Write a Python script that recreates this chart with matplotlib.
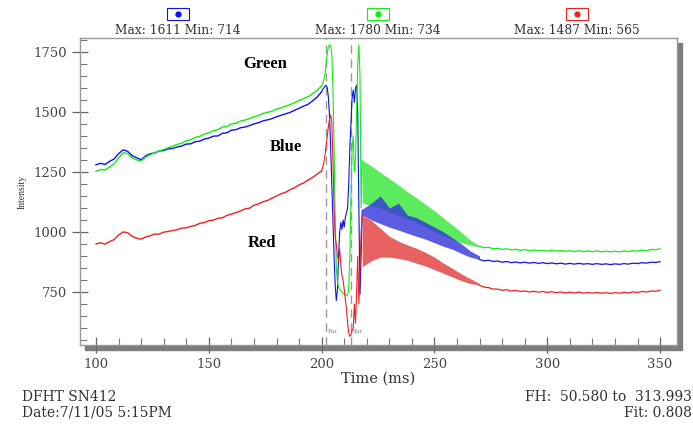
import matplotlib.pyplot as plt
from matplotlib.patches import Rectangle
from matplotlib.ticker import MultipleLocator

plt.rcParams['font.family'] = ['DejaVu Serif']

# smooth rise before the event, every 2 ms
t_pre = [100, 102, 104, 106, 108, 110, 112, 114, 116, 118, 120, 122, 124, 126, 128,
         130, 132, 134, 136, 138, 140, 142, 144, 146, 148, 150, 152, 154, 156, 158,
         160, 162, 164, 166, 168, 170, 172, 174, 176, 178, 180, 182, 184, 186, 188,
         190, 192, 194, 196, 198, 200]
blue_pre = [1280, 1286, 1281, 1294, 1304, 1326, 1342, 1336, 1318, 1309, 1301, 1317, 1326, 1329, 1337,
            1339, 1346, 1348, 1354, 1358, 1366, 1367, 1376, 1378, 1387, 1391, 1399, 1400, 1411, 1413,
            1424, 1426, 1434, 1437, 1443, 1450, 1455, 1463, 1467, 1472, 1480, 1486, 1492, 1498, 1507,
            1515, 1524, 1532, 1546, 1562, 1584]
green_pre = [1252, 1260, 1258, 1271, 1284, 1308, 1330, 1327, 1309, 1300, 1296, 1312, 1322, 1330, 1338,
             1343, 1351, 1357, 1365, 1370, 1380, 1384, 1394, 1398, 1408, 1413, 1422, 1426, 1437, 1440,
             1450, 1453, 1462, 1466, 1472, 1480, 1485, 1494, 1498, 1503, 1512, 1517, 1524, 1530, 1539,
             1547, 1556, 1563, 1576, 1590, 1608]
red_pre = [950, 955, 949, 960, 968, 987, 1000, 997, 982, 974, 970, 979, 984, 991, 991,
           999, 1002, 1006, 1009, 1016, 1017, 1023, 1027, 1036, 1039, 1047, 1049, 1057, 1059, 1069,
           1074, 1081, 1087, 1096, 1099, 1111, 1117, 1126, 1131, 1141, 1149, 1159, 1165, 1176, 1184,
           1196, 1204, 1216, 1227, 1241, 1254]

# transient between 200 and 218 ms, every 0.5 ms
t_tr = [200, 200.5, 201, 201.5, 202, 202.5, 203, 203.5, 204, 204.5, 205, 205.5, 206, 206.5,
        207, 207.5, 208, 208.5, 209, 209.5, 210, 210.5, 211, 211.5, 212, 212.5, 213,
        213.5, 214, 214.5, 215, 215.5, 216, 216.5, 217, 217.5, 218]
blue_tr = [1584, 1595, 1600, 1608, 1611, 1600, 1560, 1480, 1350, 1200, 1050, 900, 780, 714,
           760, 900, 1000, 1040, 1010, 1050, 1020, 1060, 1080, 1100, 1200, 1350, 1450,
           1560, 1590, 1540, 1600, 1611, 1500, 1100, 740, 900, 1090]
green_tr = [1608, 1620, 1635, 1660, 1700, 1745, 1770, 1780, 1775, 1740, 1600, 1350, 1050, 850,
            790, 770, 760, 755, 750, 745, 740, 738, 734, 740, 760, 900, 1150,
            1350, 1400, 1250, 1300, 1500, 1700, 1780, 1650, 1100, 1300]
red_tr = [1254, 1270, 1290, 1320, 1360, 1400, 1440, 1470, 1487, 1460, 1300, 1100, 980, 950,
          900, 880, 930, 860, 820, 800, 760, 720, 680, 620, 580, 565, 570,
          590, 600, 700, 620, 750, 900, 700, 850, 1000, 1070]

# fast oscillation after the event, drawn as upper / lower envelopes
t_band = [218, 222, 226, 230, 234, 238, 242, 246, 250, 254, 258, 262, 266, 270]
green_hi = [1300, 1275, 1248, 1222, 1196, 1168, 1142, 1115, 1088, 1058, 1028, 998, 965, 942]
green_lo = [1120, 1110, 1100, 1085, 1070, 1055, 1040, 1020, 1000, 985, 968, 955, 945, 938]
blue_hi = [1095, 1120, 1150, 1100, 1120, 1070, 1060, 1040, 1020, 1000, 975, 950, 920, 900]
blue_lo = [1070, 1050, 1035, 1020, 1008, 995, 982, 970, 955, 940, 928, 910, 895, 885]
red_hi = [1070, 1048, 1015, 982, 962, 946, 932, 915, 895, 870, 848, 825, 805, 785]
red_lo = [855, 880, 895, 895, 890, 882, 870, 858, 843, 828, 812, 797, 785, 778]

# flat tail, every 2 ms
t_tail = [270, 272, 274, 276, 278, 280, 282, 284, 286, 288, 290, 292, 294, 296, 298,
          300, 302, 304, 306, 308, 310, 312, 314, 316, 318, 320, 322, 324, 326, 328,
          330, 332, 334, 336, 338, 340, 342, 344, 346, 348, 350]
green_tail = [940, 934, 936, 930, 932, 927, 930, 925, 928, 923, 927, 922, 925, 921, 924,
              920, 924, 920, 923, 919, 922, 918, 922, 918, 921, 918, 921, 917, 920, 917,
              920, 917, 921, 918, 922, 920, 925, 922, 927, 926, 930]
blue_tail = [885, 880, 882, 877, 879, 874, 877, 872, 875, 871, 874, 870, 873, 869, 872,
             868, 871, 867, 870, 866, 869, 866, 869, 866, 868, 865, 868, 865, 867, 864,
             867, 865, 868, 866, 870, 868, 872, 870, 874, 873, 876]
red_tail = [778, 770, 768, 762, 762, 757, 759, 754, 756, 752, 754, 750, 753, 749, 752,
            748, 751, 747, 750, 746, 749, 746, 749, 745, 748, 745, 748, 745, 747, 744,
            747, 745, 748, 746, 750, 748, 752, 750, 754, 753, 757]

event_lines = [202, 213]
event_tags = ['Pur', 'Sur']
legend_text = ['Max: 1611 Min: 714', 'Max: 1780 Min: 734', 'Max: 1487 Min: 565']

c_blue, c_green, c_red = '#1010f0', '#10ee10', '#f02020'

W, H = 693, 430
fig = plt.figure(figsize=(W / 100, H / 100), dpi=100)
ax = fig.add_axes([80 / W, 1 - 345 / H, 597 / W, 307 / H])

# drop shadow of the frame
fig.add_artist(Rectangle((85 / W, 1 - 350 / H), 597 / W, 307 / H,
                         transform=fig.transFigure, color='#7d7d7d', zorder=-1))

for y, c in [(blue_pre, c_blue), (green_pre, c_green), (red_pre, c_red)]:
    ax.plot(t_pre, y, color=c, lw=1.0)
for y, c in [(blue_tr, c_blue), (green_tr, c_green), (red_tr, c_red)]:
    ax.plot(t_tr, y, color=c, lw=0.8)

ax.fill_between(t_band, green_lo, green_hi, color='#33e633', alpha=0.8, lw=0)
ax.fill_between(t_band, blue_lo, blue_hi, color='#3333dd', alpha=0.8, lw=0)
ax.fill_between(t_band, red_lo, red_hi, color='#e23a3a', alpha=0.8, lw=0)

for y, c in [(blue_tail, c_blue), (green_tail, c_green), (red_tail, c_red)]:
    ax.plot(t_tail, y, color=c, lw=0.9)

for x, tag in zip(event_lines, event_tags):
    ax.axvline(x, color='#999999', lw=1, ls=(0, (6, 4)), zorder=0)
    ax.text(x + 0.5, 585, tag, fontsize=4, color='#777777', ha='left', va='center')

lab = dict(fontsize=12, fontweight='bold', family='Liberation Serif', ha='center', va='center')
ax.text(175, 1700, 'Green', **lab)
ax.text(184, 1352, 'Blue', **lab)
ax.text(173.5, 953, 'Red', **lab)

ax.set_xlim(92.9, 357.5)
ax.set_ylim(529, 1808)
ax.xaxis.set_major_locator(MultipleLocator(50))
ax.xaxis.set_minor_locator(MultipleLocator(10))
ax.yaxis.set_major_locator(MultipleLocator(250))
ax.yaxis.set_minor_locator(MultipleLocator(50))
ax.tick_params(which='major', direction='inout', length=12, width=0.9, color='#666666',
               labelsize=9.5, labelcolor='#444444')
ax.tick_params(which='minor', direction='in', length=5, width=0.8, color='#777777')
for s in ax.spines.values():
    s.set_color('#999999')
    s.set_linewidth(1)

ax.set_xlabel('Time (ms)', fontsize=10.5, color='#333333', labelpad=0)
ax.set_ylabel('Intensity', fontsize=7, family='Liberation Serif', color='#333333', labelpad=5)

# legend boxes above the frame
for cx, txt, c in zip([178, 378, 577], legend_text, [c_blue, c_green, c_red]):
    fig.add_artist(Rectangle(((cx - 11) / W, 1 - 20 / H), 22 / W, 12 / H,
                             transform=fig.transFigure, fill=False, ec=c, lw=0.8))
    fig.add_artist(plt.Line2D([cx / W], [1 - 14 / H], marker='o', ms=3.5, color=c,
                              transform=fig.transFigure))
    fig.text(cx / W, 1 - 30 / H, txt, fontsize=8.8, color='#333333', ha='center', va='center')

fig.text(22 / W, 1 - 397 / H, 'DFHT SN412', fontsize=10, color='#333333', va='center')
fig.text(22 / W, 1 - 413 / H, 'Date:7/11/05 5:15PM', fontsize=10, color='#333333', va='center')
fig.text(692 / W, 1 - 397 / H, 'FH:  50.580 to  313.993', fontsize=10, color='#333333',
         ha='right', va='center')
fig.text(692 / W, 1 - 413 / H, 'Fit: 0.808', fontsize=10, color='#333333', ha='right', va='center')

fig.savefig('out.png', dpi=100)
